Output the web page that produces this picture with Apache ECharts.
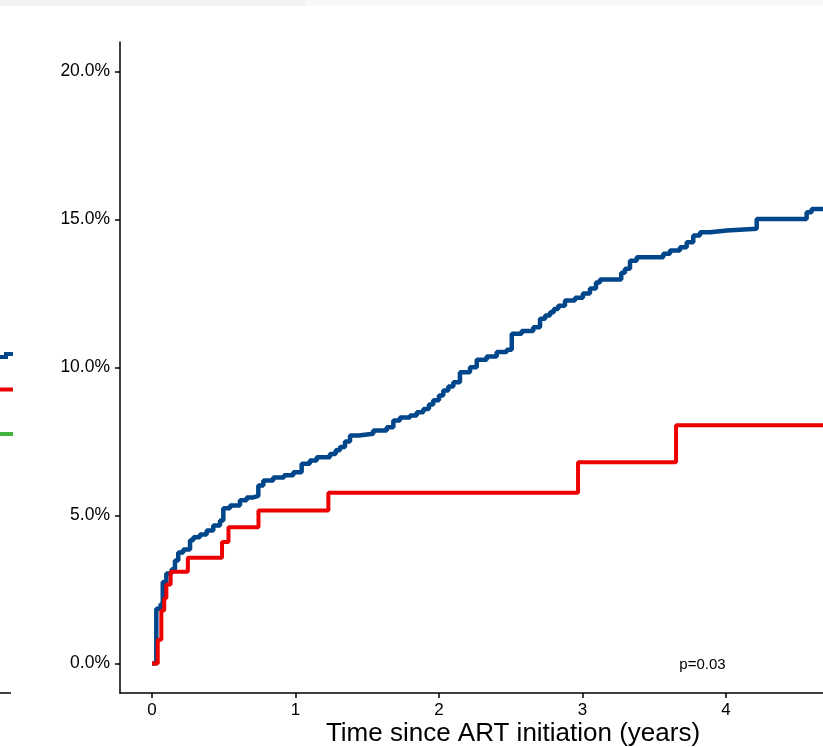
<!DOCTYPE html>
<html>
<head>
<meta charset="utf-8">
<script src="https://cdn.jsdelivr.net/npm/echarts@6/dist/echarts.min.js"></script>
<style>html,body{margin:0;padding:0;background:#fff;}#c{width:823px;height:747px;}</style>
</head>
<body>
<div id="c"></div>
<script>
// Cumulative incidence (%) vs time since ART initiation (years)
const blueSeries = [[0,0],[0.03,1.85],[0.06,2.0],[0.075,2.75],[0.1,3.04],[0.137,3.18],[0.16,3.48],[0.183,3.75],[0.218,3.85],[0.265,4.16],[0.288,4.26],[0.334,4.36],[0.381,4.49],[0.427,4.66],[0.474,4.83],[0.497,5.24],[0.544,5.34],[0.613,5.51],[0.66,5.61],[0.706,5.66],[0.741,6.01],[0.776,6.18],[0.845,6.28],[0.92,6.36],[0.985,6.46],[1.043,6.75],[1.1,6.86],[1.148,6.97],[1.24,7.08],[1.28,7.2],[1.31,7.31],[1.345,7.5],[1.38,7.7],[1.44,7.76],[1.542,7.87],[1.636,7.98],[1.682,8.21],[1.728,8.31],[1.798,8.38],[1.845,8.49],[1.891,8.6],[1.93,8.75],[1.96,8.89],[2.0,9.05],[2.03,9.22],[2.065,9.36],[2.1,9.5],[2.146,9.84],[2.216,10.01],[2.263,10.26],[2.332,10.37],[2.402,10.52],[2.472,10.6],[2.507,11.14],[2.576,11.23],[2.657,11.36],[2.704,11.65],[2.74,11.76],[2.774,11.87],[2.8,11.98],[2.831,12.09],[2.878,12.26],[2.948,12.36],[3.003,12.5],[3.052,12.67],[3.094,12.87],[3.122,12.97],[3.27,13.2],[3.296,13.34],[3.331,13.61],[3.378,13.73],[3.563,13.84],[3.61,13.95],[3.679,14.06],[3.726,14.23],[3.772,14.46],[3.819,14.57],[3.889,14.63],[4.005,14.69],[4.214,15.02],[4.562,15.25],[4.597,15.36],[4.75,15.36]];
const redSeries = [[0,0],[0.04,0.8],[0.065,1.79],[0.085,2.2],[0.1,2.67],[0.13,3.1],[0.25,3.57],[0.488,4.1],[0.533,4.6],[0.742,5.17],[1.229,5.77],[2.969,6.8],[3.652,8.05],[4.75,8.05]];
const xTicks = [0,1,2,3,4];
const yTicks = [0,5,10,15,20];
const xTitle = 'Time since ART initiation (years)';
const pText = 'p=0.03';

const FONT = 'Liberation Sans, Arial, Helvetica, sans-serif';
const chart = echarts.init(document.getElementById('c'), null, {renderer:'canvas'});
chart.setOption({
  animation:false,
  backgroundColor:'#ffffff',
  grid:{left:120, top:42, right:0, bottom:54, containLabel:false, outerBoundsMode:'none'},
  xAxis:{
    type:'value', min:-0.223, max:4.676,
    splitLine:{show:false},
    axisLine:{show:true, onZero:false, lineStyle:{color:'#000', width:1.5}},
    axisTick:{show:true, length:5, lineStyle:{color:'#000', width:1.5}, customValues:xTicks},
    axisLabel:{customValues:xTicks, color:'#000', fontSize:17, fontFamily:FONT, margin:9, formatter:v=>String(v)}
  },
  yAxis:{
    type:'value', min:-1, max:21,
    splitLine:{show:false},
    axisLine:{show:true, onZero:false, lineStyle:{color:'#000', width:1.5}},
    axisTick:{show:true, length:5, lineStyle:{color:'#000', width:1.5}, customValues:yTicks},
    axisLabel:{customValues:yTicks, color:'#000', fontSize:17.5, fontFamily:FONT, margin:10, formatter:v=>v.toFixed(1)+'%'}
  },
  series:[
    {type:'line', step:'end', data:blueSeries, showSymbol:false, symbol:'none', clip:true,
     lineStyle:{color:'#00468B', width:4.5}, z:2},
    {type:'line', step:'end', data:redSeries, showSymbol:false, symbol:'none', clip:true,
     lineStyle:{color:'#ED0000', width:4}, z:3}
  ],
  graphic:[
    {type:'rect', shape:{x:0,y:0,width:305,height:6}, style:{fill:'#f2f2f5'}, silent:true},
    {type:'rect', shape:{x:305,y:0,width:518,height:6}, style:{fill:'#f8f8f8'}, silent:true},
    {type:'polyline', shape:{points:[[0,357],[6,357],[6,354],[13,354]]}, style:{stroke:'#00468B', lineWidth:4, fill:null}, silent:true},
    {type:'line', shape:{x1:0,y1:389.5,x2:13,y2:389.5}, style:{stroke:'#ED0000', lineWidth:4}, silent:true},
    {type:'line', shape:{x1:0,y1:434,x2:13,y2:434}, style:{stroke:'#42B540', lineWidth:4}, silent:true},
    {type:'line', shape:{x1:0,y1:693,x2:11,y2:693}, style:{stroke:'#000', lineWidth:1.5}, silent:true},
    {type:'text', x:513, y:734, style:{text:xTitle, fill:'#000', font:'26px '+FONT, align:'center', verticalAlign:'middle'}, silent:true},
    {type:'text', x:702.5, y:665, style:{text:pText, fill:'#000', font:'15px '+FONT, align:'center', verticalAlign:'middle'}, silent:true}
  ]
});
</script>
</body>
</html>
